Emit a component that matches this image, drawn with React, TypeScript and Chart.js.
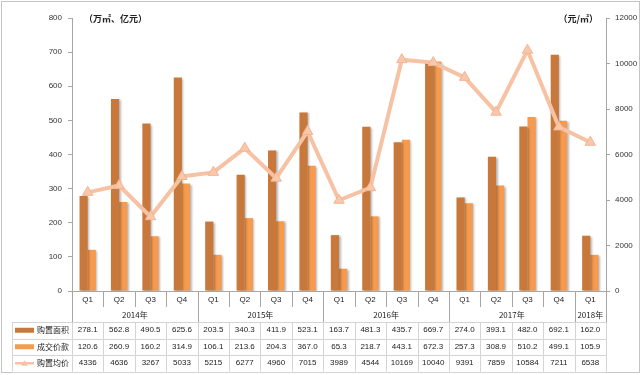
import React, { useEffect, useRef } from "react";
import { Chart, registerables } from "chart.js";

Chart.register(...registerables);

const quarters = ["Q1","Q2","Q3","Q4","Q1","Q2","Q3","Q4","Q1","Q2","Q3","Q4","Q1","Q2","Q3","Q4","Q1"];
const years = ["2014年","2015年","2016年","2017年","2018年"];
const yearSpans = [4,4,4,4,1];
const areaLabel = "购置面积";
const amountLabel = "成交价款";
const priceLabel = "购置均价";
const areaValues = [278.1,562.8,490.5,625.6,203.5,340.3,411.9,523.1,163.7,481.3,435.7,669.7,274.0,393.1,482.0,692.1,162.0];
const amountValues = [120.6,260.9,160.2,314.9,106.1,213.6,204.3,367.0,65.3,218.7,443.1,672.3,257.3,308.9,510.2,499.1,105.9];
const priceValues = [4336,4636,3267,5033,5215,6277,4960,7015,3989,4544,10169,10040,9391,7859,10584,7211,6538];
const leftUnit = "（万㎡、亿元）";
const rightUnit = "（元/㎡）";

const C_AREA = "#C8783A";
const C_AMOUNT = "#F59A4E";
const C_PRICE = "#F7C2A3";
const NUM_FONT = "'Liberation Sans', 'Noto Sans CJK SC', sans-serif";
const CJK_FONT = "'Noto Sans CJK SC', 'Liberation Sans', sans-serif";

const W = 643;
const H = 375;

const fmt1 = (v: number) => v.toFixed(1);
const fmt0 = (v: number) => String(Math.round(v));

const tablePlugin = {
  id: "tablePlugin",
  beforeDraw(chart: any) {
    const ctx = chart.ctx;
    ctx.save();
    ctx.fillStyle = "#ffffff";
    ctx.fillRect(0, 0, W, H);
    ctx.restore();
  },
  beforeDatasetDraw(chart: any, args: any) {
    if (args.meta.type === "bar") {
      const ctx = chart.ctx;
      ctx.save();
      ctx.shadowColor = "rgba(0,0,0,0.28)";
      ctx.shadowBlur = 2;
      ctx.shadowOffsetX = 1.5;
      ctx.shadowOffsetY = 1;
    }
  },
  afterDatasetDraw(chart: any, args: any) {
    if (args.meta.type === "bar") {
      chart.ctx.restore();
    }
  },
  afterDraw(chart: any) {
    const ctx = chart.ctx;
    const area = chart.chartArea;
    const left = area.left;
    const right = area.right;
    const bottom = area.bottom;
    const n = quarters.length;
    const cw = (right - left) / n;
    const xs = chart.scales.x;

    ctx.save();
    ctx.strokeStyle = "#C4C4C4";
    ctx.lineWidth = 1;
    ctx.strokeRect(1.5, 1.5, W - 5, H - 4);

    ctx.fillStyle = "#222";
    ctx.font = "bold 9px " + CJK_FONT;
    ctx.textBaseline = "middle";
    ctx.textAlign = "left";
    ctx.fillText(leftUnit, left + 12, area.top + 1);
    ctx.textAlign = "right";
    ctx.fillText(rightUnit, right - 8, area.top + 1);

    const axisColor = "#A6A6A6";
    ctx.strokeStyle = axisColor;
    ctx.beginPath();
    ctx.moveTo(left, Math.round(bottom) + 0.5);
    ctx.lineTo(right, Math.round(bottom) + 0.5);
    ctx.stroke();

    const qRowBottom = bottom + 16;
    const yearRowBottom = bottom + 31;
    const rowH = 16.5;
    const tableLeft = 12;

    const yearBounds: number[] = [0];
    yearSpans.reduce((acc, s) => { yearBounds.push(acc + s); return acc + s; }, 0);
    for (let i = 0; i <= n; i++) {
      const x = Math.round(left + i * cw) + 0.5;
      const isYear = yearBounds.indexOf(i) >= 0;
      ctx.beginPath();
      ctx.moveTo(x, bottom);
      ctx.lineTo(x, isYear ? yearRowBottom : qRowBottom);
      ctx.stroke();
    }

    ctx.fillStyle = "#222";
    ctx.font = "8px " + NUM_FONT;
    ctx.textAlign = "center";
    ctx.textBaseline = "middle";
    for (let i = 0; i < n; i++) {
      ctx.fillText(quarters[i], xs.getPixelForValue(i), bottom + 8.5);
    }
    ctx.font = "8px " + CJK_FONT;
    for (let k = 0; k < years.length; k++) {
      const a = left + yearBounds[k] * cw;
      const b = left + yearBounds[k + 1] * cw;
      ctx.fillText(years[k], (a + b) / 2, bottom + 23.5);
    }

    const rowsTop = yearRowBottom;
    ctx.strokeStyle = "#D4D4D4";
    for (let r = 0; r <= 3; r++) {
      const y = Math.round(rowsTop + r * rowH) + 0.5;
      ctx.beginPath();
      ctx.moveTo(tableLeft, y);
      ctx.lineTo(right, y);
      ctx.stroke();
    }
    const tBottom = rowsTop + 3 * rowH;
    const vlines = [tableLeft];
    for (let i = 0; i <= n; i++) vlines.push(left + i * cw);
    for (const vx of vlines) {
      const x = Math.round(vx) + 0.5;
      ctx.beginPath();
      ctx.moveTo(x, rowsTop);
      ctx.lineTo(x, tBottom);
      ctx.stroke();
    }

    const rows = [
      { label: areaLabel, values: areaValues, f: fmt1, color: C_AREA, kind: "bar" },
      { label: amountLabel, values: amountValues, f: fmt1, color: C_AMOUNT, kind: "bar" },
      { label: priceLabel, values: priceValues, f: fmt0, color: C_PRICE, kind: "line" },
    ];
    rows.forEach((row, r) => {
      const cy = rowsTop + r * rowH + rowH / 2;
      if (row.kind === "bar") {
        ctx.fillStyle = row.color;
        ctx.fillRect(15, cy - 2.5, 19, 5);
      } else {
        ctx.strokeStyle = row.color;
        ctx.lineWidth = 2.5;
        ctx.beginPath();
        ctx.moveTo(15, cy);
        ctx.lineTo(34, cy);
        ctx.stroke();
        ctx.fillStyle = row.color;
        ctx.beginPath();
        ctx.moveTo(24.5, cy - 3);
        ctx.lineTo(28, cy + 2.5);
        ctx.lineTo(21, cy + 2.5);
        ctx.closePath();
        ctx.fill();
        ctx.lineWidth = 1;
      }
      ctx.fillStyle = "#222";
      ctx.font = "8px " + CJK_FONT;
      ctx.textAlign = "left";
      ctx.fillText(row.label, 37, cy);
      ctx.font = "8px " + NUM_FONT;
      ctx.textAlign = "center";
      for (let i = 0; i < n; i++) {
        ctx.fillText(row.f(row.values[i]), xs.getPixelForValue(i), cy);
      }
    });
    ctx.restore();
  },
};

export default function App() {
  const ref = useRef<HTMLCanvasElement | null>(null);
  useEffect(() => {
    document.body.style.margin = "0";
    if (!ref.current) return;
    const tickFont = { size: 8, family: NUM_FONT };
    const chart = new Chart(ref.current, {
      type: "bar",
      data: {
        labels: quarters.map((q, i) => q + "-" + i),
        datasets: [
          {
            type: "line",
            label: priceLabel,
            data: priceValues,
            yAxisID: "y1",
            borderColor: C_PRICE,
            backgroundColor: C_PRICE,
            borderWidth: 4,
            pointStyle: "triangle",
            pointRadius: 6,
            pointBorderWidth: 1,
            pointBorderColor: "#F5B490",
            pointBackgroundColor: "#F8C8AD",
            tension: 0,
            order: 0,
          } as any,
          {
            type: "bar",
            label: areaLabel,
            data: areaValues,
            yAxisID: "y",
            backgroundColor: C_AREA,
            categoryPercentage: 0.52,
            barPercentage: 1.0,
            order: 1,
          },
          {
            type: "bar",
            label: amountLabel,
            data: amountValues,
            yAxisID: "y",
            backgroundColor: C_AMOUNT,
            categoryPercentage: 0.52,
            barPercentage: 1.0,
            order: 1,
          },
        ],
      },
      options: {
        responsive: false,
        animation: false,
        layout: { padding: { top: 18, left: 0, right: 0, bottom: 0 } },
        plugins: { legend: { display: false }, tooltip: { enabled: false } },
        scales: {
          x: {
            type: "category",
            offset: true,
            ticks: { display: false },
            grid: { display: false },
            border: { display: false },
            afterFit: (s: any) => { s.height = 84; },
          },
          y: {
            position: "left",
            min: 0,
            max: 800,
            ticks: { stepSize: 100, font: tickFont, color: "#333", padding: 6, callback: (v: any) => String(v) },
            grid: { drawOnChartArea: false, drawTicks: true, tickLength: 4, color: "#A6A6A6" },
            border: { display: true, color: "#A6A6A6" },
            afterFit: (s: any) => { s.width = 72; },
          },
          y1: {
            position: "right",
            min: 0,
            max: 12000,
            ticks: { stepSize: 2000, font: tickFont, color: "#333", padding: 5, callback: (v: any) => String(v) },
            grid: { drawOnChartArea: false, drawTicks: true, tickLength: 4, color: "#A6A6A6" },
            border: { display: true, color: "#A6A6A6" },
            afterFit: (s: any) => { s.width = 37; },
          },
        },
      } as any,
      plugins: [tablePlugin],
    });
    return () => chart.destroy();
  }, []);
  return (
    <div style={{ position: "absolute", left: 0, top: 0, width: W, height: H }}>
      <canvas ref={ref} width={W} height={H} style={{ display: "block" }} />
    </div>
  );
}
